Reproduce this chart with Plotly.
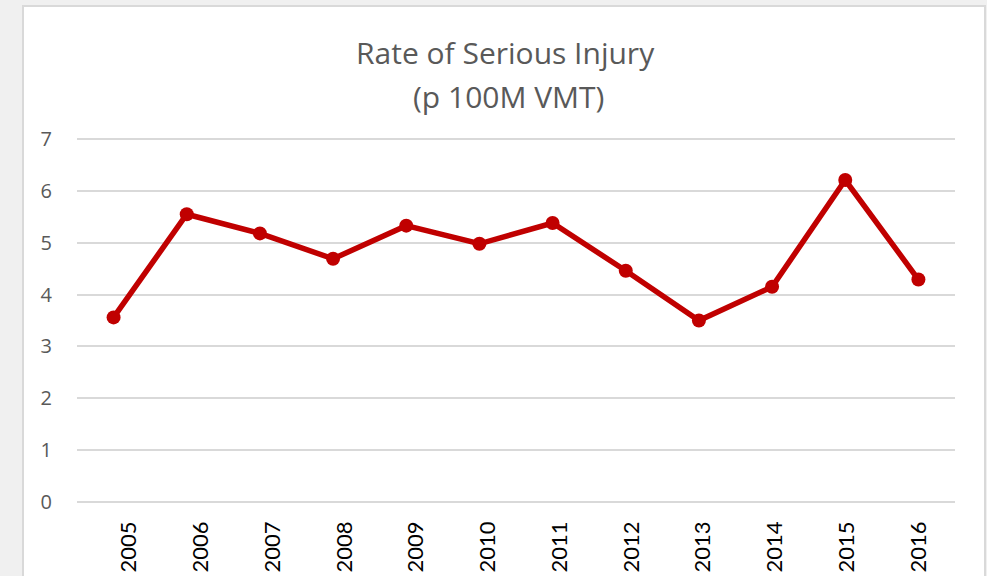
import plotly.graph_objects as go

years = ["2005", "2006", "2007", "2008", "2009", "2010", "2011", "2012", "2013", "2014", "2015", "2016"]
rates = [3.56, 5.55, 5.18, 4.69, 5.33, 4.98, 5.38, 4.46, 3.50, 4.15, 6.21, 4.29]
y_ticks = [0, 1, 2, 3, 4, 5, 6, 7]
title_lines = ["Rate of Serious Injury", "(p 100M VMT)"]

W, H = 987, 576
L, R, T, B = 77, 32, 137, 72
pw, ph = W - L - R, H - T - B

def px_x(x):
    return (x - L) / pw

def px_y(y):
    return (H - B - y) / ph

idx = list(range(len(years)))

fig = go.Figure()
fig.add_trace(go.Scatter(
    x=years, y=rates, mode="lines+markers",
    line=dict(color="#c00000", width=5.5),
    marker=dict(color="#c00000", size=14),
    showlegend=False, hoverinfo="x+y",
))
# helper trace that only carries the label axis
fig.add_trace(go.Scatter(
    x=idx, y=rates, xaxis="x2", mode="markers", marker=dict(opacity=0),
    showlegend=False, hoverinfo="skip",
))

fig.update_layout(
    width=W, height=H,
    paper_bgcolor="#f0f0f0", plot_bgcolor="white",
    margin=dict(l=L, r=R, t=T, b=B, autoexpand=False),
    shapes=[dict(type="rect", xref="paper", yref="paper",
                 x0=px_x(23), x1=px_x(985), y0=px_y(600), y1=px_y(6),
                 line=dict(color="#d9d9d9", width=2), fillcolor="white", layer="below")],
    annotations=[
        dict(text=title_lines[0], xref="paper", yref="paper", x=px_x(505), y=px_y(52),
             xanchor="center", yanchor="middle", showarrow=False,
             font=dict(family="Open Sans", size=30, color="#595959")),
        dict(text=title_lines[1], xref="paper", yref="paper", x=px_x(508), y=px_y(97),
             xanchor="center", yanchor="middle", showarrow=False,
             font=dict(family="Open Sans", size=30, color="#595959")),
    ],
    xaxis=dict(type="category", range=[-0.5, 11.5], showgrid=False, zeroline=False,
               showticklabels=False, ticks="", automargin=False),
    xaxis2=dict(overlaying="x", side="bottom", anchor="y", range=[-0.724, 11.505],
                tickvals=idx, ticktext=years, showgrid=False, zeroline=False,
                tickangle=-90, tickfont=dict(family="Lato", size=22, color="black"),
                ticks="", ticklabelstandoff=12, automargin=False),
    yaxis=dict(range=[-0.04, 7.04], tickvals=y_ticks, showgrid=True, gridcolor="#d9d9d9", gridwidth=2,
               zeroline=False, tickfont=dict(family="Open Sans", size=20, color="#595959"),
               ticks="", ticklabelstandoff=24, automargin=False),
)

fig.write_html("out.html", config={"displayModeBar": False},
               post_script="document.body.style.margin='0';document.body.style.background='#f0f0f0';")
